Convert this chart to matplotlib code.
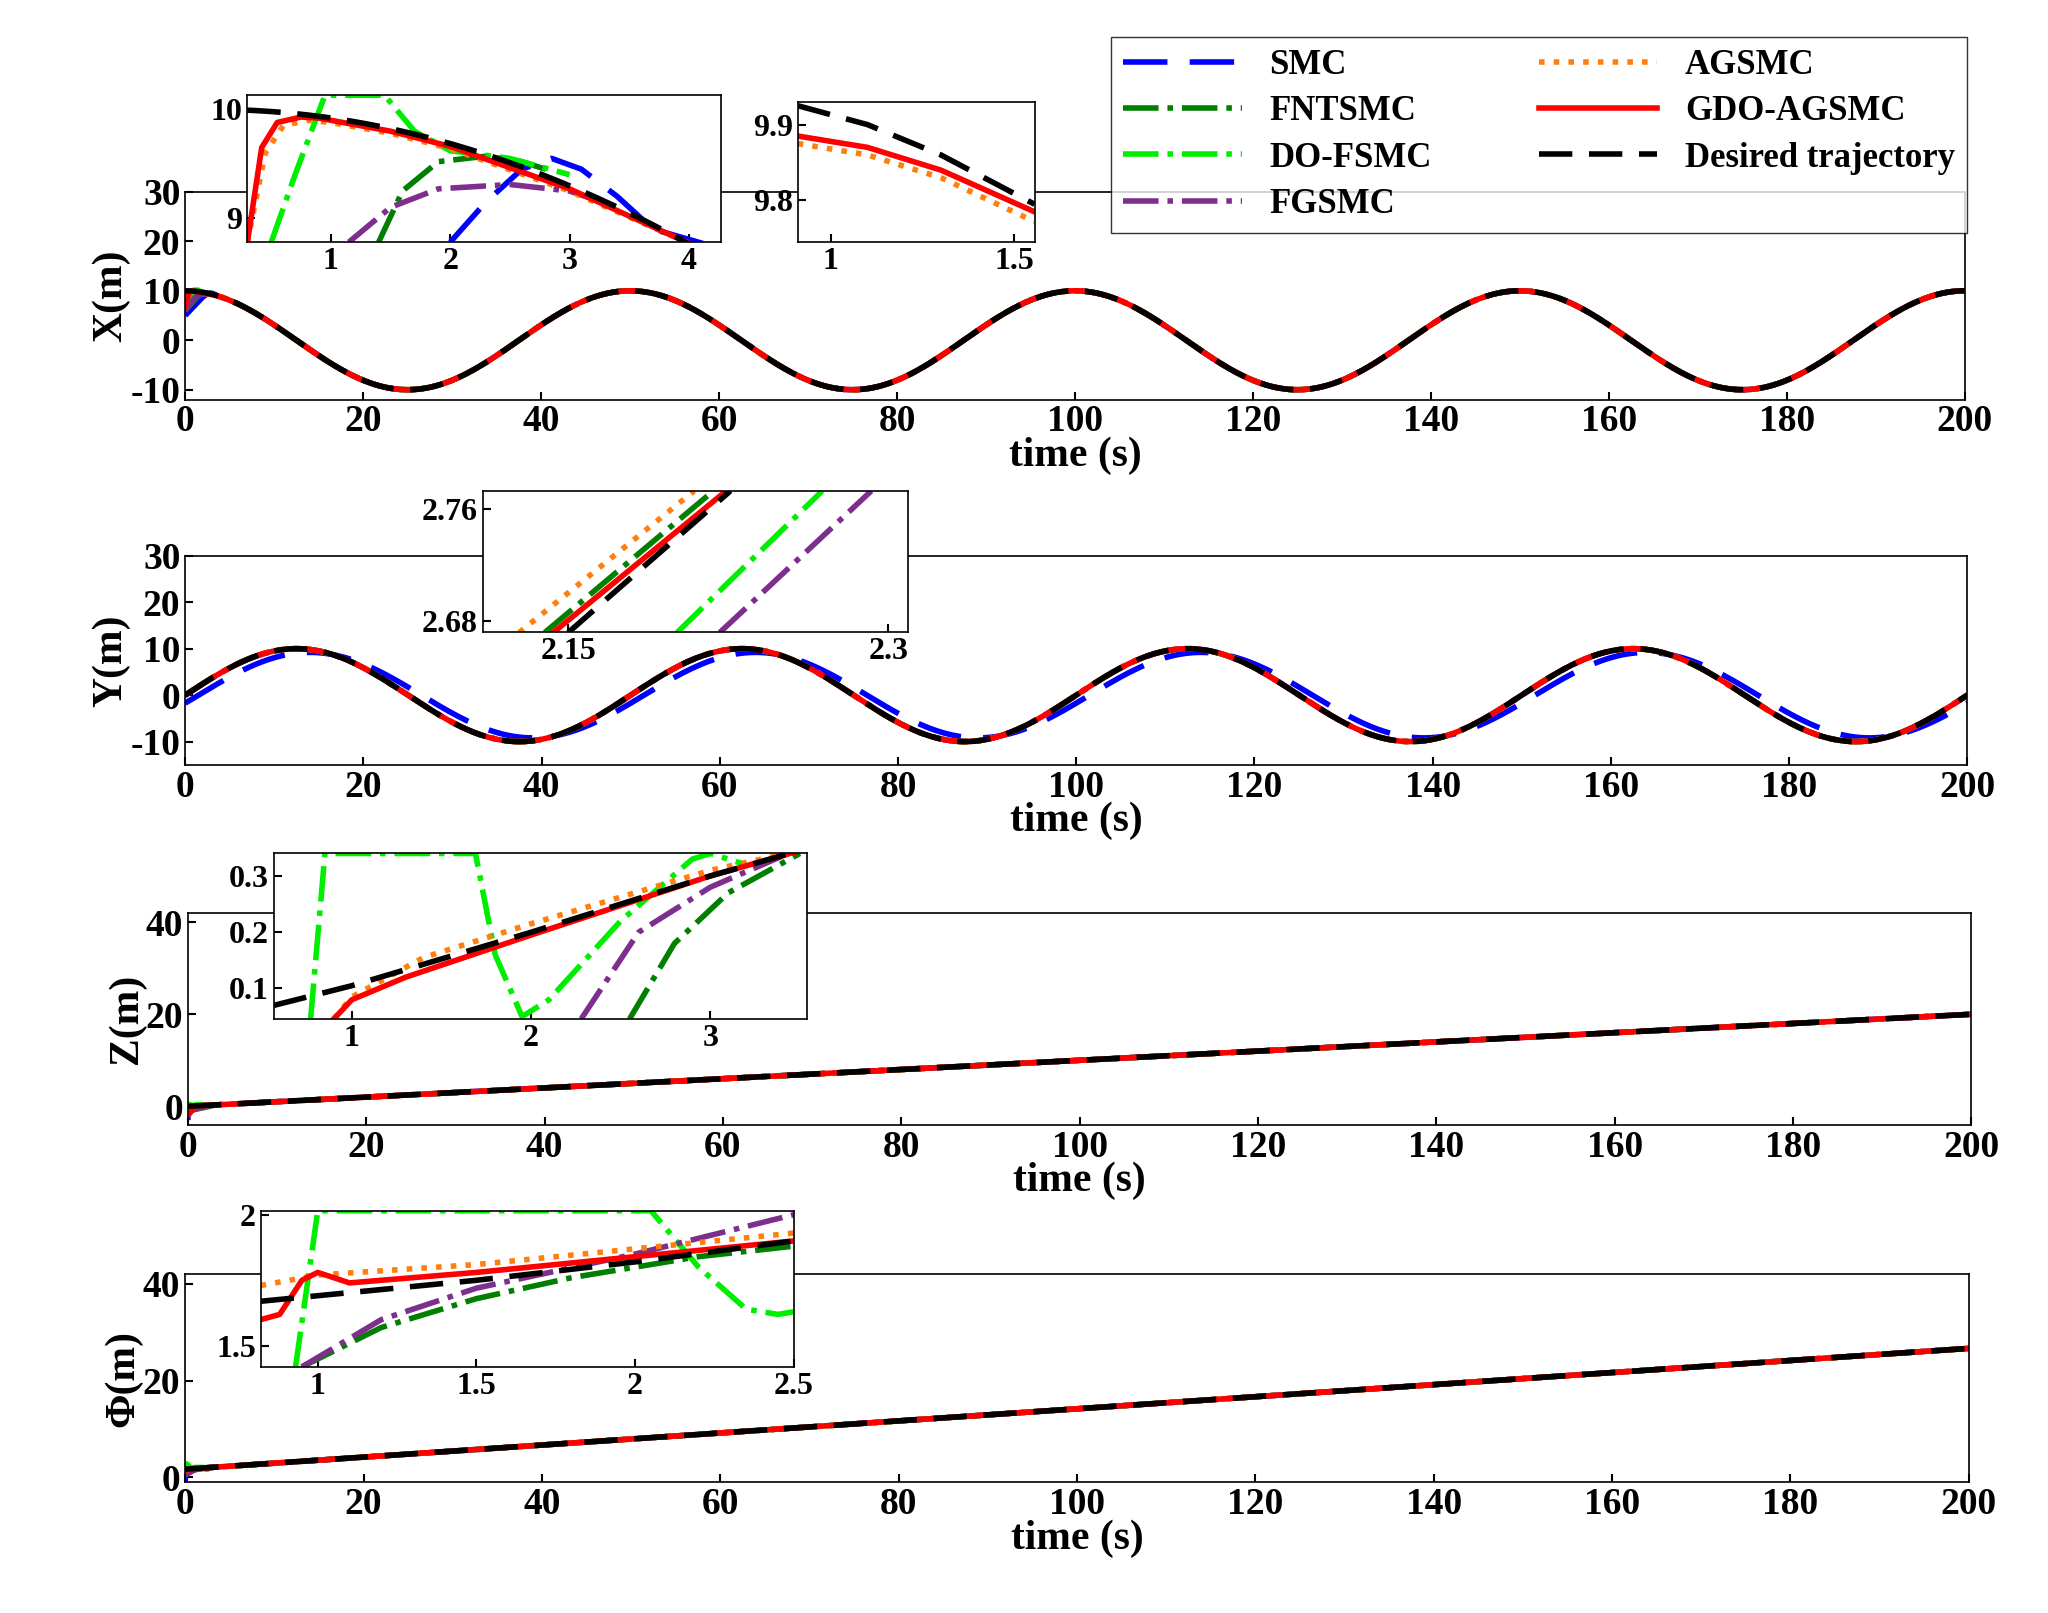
import numpy as np
import matplotlib
matplotlib.use("Agg")
import matplotlib.pyplot as plt
from matplotlib.ticker import FuncFormatter

plt.rcParams['font.family'] = ['Liberation Serif', 'DejaVu Serif']
plt.rcParams['font.weight'] = 'bold'
plt.rcParams['axes.labelweight'] = 'bold'

# ---------------- desired trajectory parameters ----------------
X_AMP, X_PERIOD = 10.0, 50.0
Y_AMP, Y_PERIOD = 10.0, 50.0
Z_SLOPE = 0.1
PHI_OFFSET, PHI_SLOPE = 1.65, 0.125
SMC_Y_LAG = 1.5
SMC_Y_GAIN = 0.92

names = ["SMC", "FNTSMC", "DO-FSMC", "FGSMC", "AGSMC", "GDO-AGSMC", "Desired trajectory"]
colors = ["#0000ff", "#007f00", "#00ee00", "#7e2f8e", "#ff7f0e", "#ff0000", "#000000"]
styles = [(0, (8, 4)), "-.", "-.", "-.", ":", "-", (0, (6, 3))]

# ---------------- inset readings (t, value) ----------------
x1_t = {
 "SMC": [2.0, 2.3, 2.6, 2.85, 3.1, 3.4, 3.7, 4.27],
 "FNTSMC": [1.4, 1.6, 1.9, 2.3, 2.6, 2.8],
 "DO-FSMC": [0.5, 0.7, 0.95, 1.45, 1.7, 2.0, 2.5, 3.0],
 "FGSMC": [1.15, 1.5, 1.9, 2.5, 3.0, 3.4],
 "AGSMC": [0.3, 0.45, 0.6, 0.8, 1.0, 1.5, 2.0, 3.0, 4.0],
 "GDO-AGSMC": [0.3, 0.42, 0.55, 0.75, 0.9, 1.5, 2.0, 3.0, 4.0],
}
x1_v = {
 "SMC": [8.78, 9.15, 9.45, 9.55, 9.45, 9.2, 8.9, 8.72],
 "FNTSMC": [8.78, 9.25, 9.52, 9.57, 9.52, 9.45],
 "DO-FSMC": [8.78, 9.4, 10.13, 10.13, 9.8, 9.62, 9.55, 9.4],
 "FGSMC": [8.78, 9.1, 9.27, 9.31, 9.25, 9.1],
 "AGSMC": [8.78, 9.6, 9.85, 9.9, 9.88, 9.78, 9.64, 9.25, 8.77],
 "GDO-AGSMC": [8.78, 9.65, 9.88, 9.93, 9.92, 9.8, 9.66, 9.27, 8.77],
}
x2_t = [0.91, 1.1, 1.3, 1.555]
x2_v = {
 "AGSMC": [9.875, 9.86, 9.83, 9.772],
 "GDO-AGSMC": [9.885, 9.87, 9.84, 9.785],
 "Desired trajectory": [9.925, 9.9, 9.86, 9.795],
}
y_in_t = {
 "AGSMC": [2.127, 2.209], "FNTSMC": [2.139, 2.218], "GDO-AGSMC": [2.143, 2.224],
 "Desired trajectory": [2.15, 2.226], "DO-FSMC": [2.201, 2.269], "FGSMC": [2.221, 2.292],
}
y_in_v = [2.672, 2.773]
z_t = {
 "FNTSMC": [2.55, 2.8, 3.1, 3.5],
 "DO-FSMC": [0.77, 0.85, 1.69, 1.8, 1.95, 2.1, 2.5, 2.9, 3.0, 3.2],
 "FGSMC": [2.28, 2.6, 3.0, 3.4],
 "AGSMC": [0.9, 1.0, 1.4, 2.0, 3.0, 3.5],
 "GDO-AGSMC": [0.9, 1.0, 1.3, 2.0, 3.0, 3.5],
 "Desired trajectory": [0.565, 1.0, 2.0, 3.0, 3.5],
}
z_v = {
 "FNTSMC": [0.046, 0.18, 0.27, 0.34],
 "DO-FSMC": [0.046, 0.34, 0.34, 0.16, 0.05, 0.08, 0.22, 0.33, 0.34, 0.32],
 "FGSMC": [0.046, 0.2, 0.28, 0.335],
 "AGSMC": [0.046, 0.085, 0.155, 0.215, 0.31, 0.345],
 "GDO-AGSMC": [0.046, 0.08, 0.12, 0.195, 0.3, 0.345],
 "Desired trajectory": [0.07, 0.105, 0.2, 0.3, 0.345],
}
p_t = {
 "FNTSMC": [0.95, 1.2, 1.5, 1.8, 2.2, 2.5],
 "DO-FSMC": [0.93, 1.0, 2.05, 2.2, 2.35, 2.45, 2.5],
 "FGSMC": [0.95, 1.2, 1.5, 2.0, 2.5],
 "AGSMC": [0.82, 1.0, 1.5, 2.0, 2.5],
 "GDO-AGSMC": [0.82, 0.88, 0.95, 1.0, 1.05, 1.1, 1.2, 1.5, 2.0, 2.5],
 "Desired trajectory": [0.82, 1.5, 2.0, 2.5],
}
p_v = {
 "FNTSMC": [1.42, 1.57, 1.68, 1.76, 1.84, 1.88],
 "DO-FSMC": [1.42, 2.015, 2.015, 1.8, 1.64, 1.62, 1.63],
 "FGSMC": [1.42, 1.6, 1.72, 1.85, 2.0],
 "AGSMC": [1.73, 1.77, 1.81, 1.87, 1.93],
 "GDO-AGSMC": [1.6, 1.62, 1.75, 1.78, 1.76, 1.74, 1.75, 1.78, 1.84, 1.9],
 "Desired trajectory": [1.67, 1.75, 1.82, 1.9],
}
x0 = {"SMC": 5.0, "FNTSMC": 6.0, "DO-FSMC": 6.5, "FGSMC": 6.0, "AGSMC": 7.0, "GDO-AGSMC": 7.0}
z0 = {"SMC": -3.0, "FNTSMC": -1.0, "DO-FSMC": 0.5, "FGSMC": -1.0, "AGSMC": -0.5, "GDO-AGSMC": -2.0}
p0 = {"SMC": -1.0, "FNTSMC": 0.5, "DO-FSMC": 3.0, "FGSMC": 0.5, "AGSMC": 1.5, "GDO-AGSMC": 1.5}

t = np.linspace(0, 200, 4001)
Xd = X_AMP * np.cos(2 * np.pi * t / X_PERIOD)
Yd = Y_AMP * np.sin(2 * np.pi * t / Y_PERIOD)
Zd = Z_SLOPE * t
Pd = PHI_OFFSET + PHI_SLOPE * t

LW = 4
fig = plt.figure(figsize=(20.48, 16.13), dpi=100)
W, H = 1548.0, 1219.0

def fa(x0_, y0_, x1_, y1_):
    return [x0_ / W, 1 - y1_ / H, (x1_ - x0_) / W, (y1_ - y0_) / H]

fmt = FuncFormatter(lambda v, p: ('%g' % round(v, 4)))

def style_ax(ax, fs=22):
    ax.tick_params(direction='in', labelsize=fs, width=1.5, length=6)
    ax.xaxis.set_major_formatter(fmt)
    ax.yaxis.set_major_formatter(fmt)
    for s in ax.spines.values():
        s.set_linewidth(1.2)

def main_curve(name, t0val, tin, vin, desired):
    if name == "Desired trajectory":
        return t, desired
    if tin is None:
        tt = np.array([0.0]); vv = np.array([t0val])
    else:
        tt = np.concatenate([[0.0], tin]); vv = np.concatenate([[t0val], vin])
    mask = t > tt[-1]
    return np.concatenate([tt, t[mask]]), np.concatenate([vv, desired[mask]])

axes_rect = [fa(140, 145, 1485, 302), fa(140, 420, 1487, 578), fa(142, 690, 1490, 850), fa(140, 963, 1488, 1120)]
ylims = [(-12, 30), (-15, 30), (-4, 42), (-1, 42)]
yticks = [[-10, 0, 10, 20, 30], [-10, 0, 10, 20, 30], [0, 20, 40], [0, 20, 40]]
ylabels = ["X(m)", "Y(m)", "Z(m)", "Φ(m)"]

handles = []
for k in range(4):
    ax = fig.add_axes(axes_rect[k])
    for i, n in enumerate(names):
        if k == 0:
            tt, vv = main_curve(n, x0.get(n, 0), x1_t.get(n), x1_v.get(n), Xd)
        elif k == 1:
            if n == "SMC":
                tt, vv = t, Y_AMP * SMC_Y_GAIN * np.sin(2 * np.pi * (t - SMC_Y_LAG) / Y_PERIOD)
            else:
                tt, vv = t, Yd
        elif k == 2:
            tt, vv = main_curve(n, z0.get(n, 0), z_t.get(n), z_v.get(n), Zd)
        else:
            tt, vv = main_curve(n, p0.get(n, 0), p_t.get(n), p_v.get(n), Pd)
        h, = ax.plot(tt, vv, color=colors[i], ls=styles[i], lw=LW, label=n)
        if k == 0:
            handles.append(h)
    ax.set_xlim(0, 200)
    ax.set_ylim(*ylims[k])
    ax.set_yticks(yticks[k])
    ax.set_xticks(range(0, 201, 20))
    style_ax(ax, 27)
    ax.set_xlabel("time (s)", fontsize=30, labelpad=-2)
    ax.set_ylabel(ylabels[k], fontsize=30, labelpad=0)

fig.legend(handles=handles, ncol=2, loc='upper left',
           bbox_to_anchor=(840 / W, 1 - 187 / H, (1487 - 840) / W, (187 - 28) / H),
           mode='expand', fontsize=25, frameon=True, fancybox=False, edgecolor='black',
           handlelength=3.4, borderaxespad=0, labelspacing=0.38, columnspacing=1.0,
           borderpad=0.35)

def inset(rect, xlim, ylim, xt, yt, fs=23):
    a = fig.add_axes(rect)
    a.set_xlim(*xlim); a.set_ylim(*ylim)
    a.set_xticks(xt); a.set_yticks(yt)
    style_ax(a, fs)
    return a

a = inset(fa(187, 72, 545, 183), (0.3, 4.27), (8.78, 10.13), [1, 2, 3, 4], [9, 10])
for i, n in enumerate(names):
    if n == "Desired trajectory":
        tt = np.linspace(0.3, 4.27, 100)
        a.plot(tt, X_AMP * np.cos(2 * np.pi * tt / X_PERIOD), color=colors[i], ls=styles[i], lw=LW)
    else:
        a.plot(x1_t[n], x1_v[n], color=colors[i], ls=styles[i], lw=LW)
a = inset(fa(603, 77, 782, 183), (0.91, 1.555), (9.745, 9.93), [1, 1.5], [9.8, 9.9])
for i, n in enumerate(names):
    if n in x2_v:
        a.plot(x2_t, x2_v[n], color=colors[i], ls=styles[i], lw=LW)
a = inset(fa(365, 371, 686, 478), (2.11, 2.309), (2.672, 2.773), [2.15, 2.3], [2.68, 2.76])
for i, n in enumerate(names):
    if n in y_in_t:
        a.plot(y_in_t[n], y_in_v, color=colors[i], ls=styles[i], lw=LW)
a = inset(fa(207, 645, 610, 770), (0.565, 3.54), (0.046, 0.34), [1, 2, 3], [0.1, 0.2, 0.3])
for i, n in enumerate(names):
    if n in z_t:
        a.plot(z_t[n], z_v[n], color=colors[i], ls=styles[i], lw=LW)
a = inset(fa(197, 915, 600, 1033), (0.82, 2.5), (1.42, 2.015), [1, 1.5, 2, 2.5], [1.5, 2])
for i, n in enumerate(names):
    if n in p_t:
        a.plot(p_t[n], p_v[n], color=colors[i], ls=styles[i], lw=LW)

fig.savefig("out.png", dpi=100, facecolor='white')
